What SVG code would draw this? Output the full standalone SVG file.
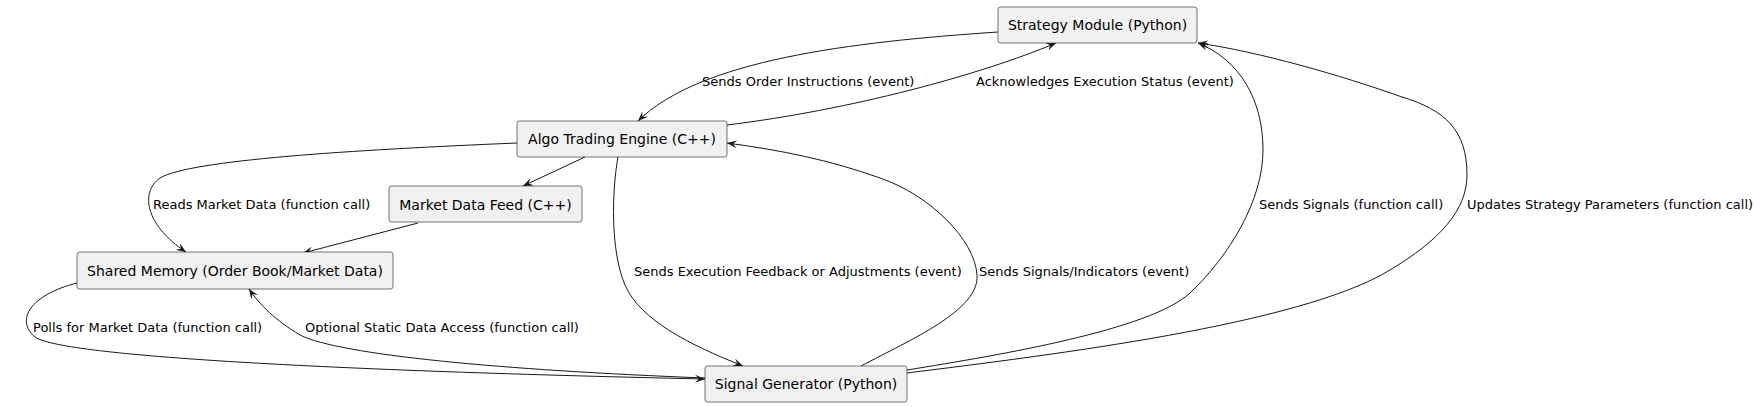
<svg xmlns="http://www.w3.org/2000/svg" width="1759" height="407" viewBox="0 0 1759 407">
<style>
.node rect{fill:#F1F1F1;stroke:#181818;stroke-width:0.6}
.node text{font-family:"DejaVu Sans",sans-serif;font-size:14px;fill:#000;text-anchor:middle}
.edge path{fill:none;stroke:#181818;stroke-width:1}
.lbl{font-family:"DejaVu Sans",sans-serif;font-size:13px;fill:#000}
</style>
<defs>
<marker id="ah" viewBox="0 0 10 8" refX="10" refY="4" markerWidth="10" markerHeight="8" markerUnits="userSpaceOnUse" orient="auto">
<path d="M0,0 L10,4 L0,8 L4,4 Z" fill="#181818"/>
</marker>
</defs>
<rect width="1759" height="407" fill="#FFFFFF"/>
<g id="connectors" class="edge">
<path d="M998,32 C850,42 700,60 638,121" marker-end="url(#ah)"/>
<path d="M727,125 C850,110 980,75 1056,43" marker-end="url(#ah)"/>
<path d="M517,143 C350,150 190,160 160,178 C140,192 145,225 186,252" marker-end="url(#ah)"/>
<path d="M585,157 L523,186" marker-end="url(#ah)"/>
<path d="M418,223 L303,253" marker-end="url(#ah)"/>
<path d="M77,283 C30,295 15,320 35,337 C60,355 300,370 705,379" marker-end="url(#ah)"/>
<path d="M705,378 C500,370 340,355 300,335 C275,320 260,305 249,289" marker-end="url(#ah)"/>
<path d="M618,157 C612,190 610,250 625,285 C640,320 690,345 743,366" marker-end="url(#ah)"/>
<path d="M861,366 C910,340 980,310 977,275 C975,240 930,195 880,178 C830,160 780,150 727,143" marker-end="url(#ah)"/>
<path d="M907,370 C1000,355 1150,330 1190,293 C1230,255 1263,200 1263,150 C1263,100 1240,60 1198,43" marker-end="url(#ah)"/>
<path d="M907,373 C1050,355 1300,325 1390,270 C1440,240 1467,210 1467,175 C1467,130 1445,110 1402,97 C1340,75 1260,52 1198,43" marker-end="url(#ah)"/>
</g>
<g id="labels">
<text class="lbl" x="702" y="86">Sends Order Instructions (event)</text>
<text class="lbl" x="976" y="86">Acknowledges Execution Status (event)</text>
<text class="lbl" x="153" y="209">Reads Market Data (function call)</text>
<text class="lbl" x="33" y="332">Polls for Market Data (function call)</text>
<text class="lbl" x="305" y="332">Optional Static Data Access (function call)</text>
<text class="lbl" x="634" y="276">Sends Execution Feedback or Adjustments (event)</text>
<text class="lbl" x="979" y="276">Sends Signals/Indicators (event)</text>
<text class="lbl" x="1259" y="209">Sends Signals (function call)</text>
<text class="lbl" x="1467" y="209">Updates Strategy Parameters (function call)</text>
</g>
<g id="strategy" class="node">
<rect x="998" y="7" width="199" height="36" rx="2.5"/>
<text x="1097.5" y="30">Strategy Module (Python)</text>
</g>
<g id="algo" class="node">
<rect x="517" y="121" width="210" height="36" rx="2.5"/>
<text x="622" y="144">Algo Trading Engine (C++)</text>
</g>
<g id="mdf" class="node">
<rect x="389" y="186" width="193" height="36" rx="2.5"/>
<text x="485.5" y="209.5">Market Data Feed (C++)</text>
</g>
<g id="shm" class="node">
<rect x="77" y="252" width="316" height="37" rx="2.5"/>
<text x="235" y="276">Shared Memory (Order Book/Market Data)</text>
</g>
<g id="siggen" class="node">
<rect x="705" y="366" width="202" height="36" rx="2.5"/>
<text x="806" y="389">Signal Generator (Python)</text>
</g>
</svg>
